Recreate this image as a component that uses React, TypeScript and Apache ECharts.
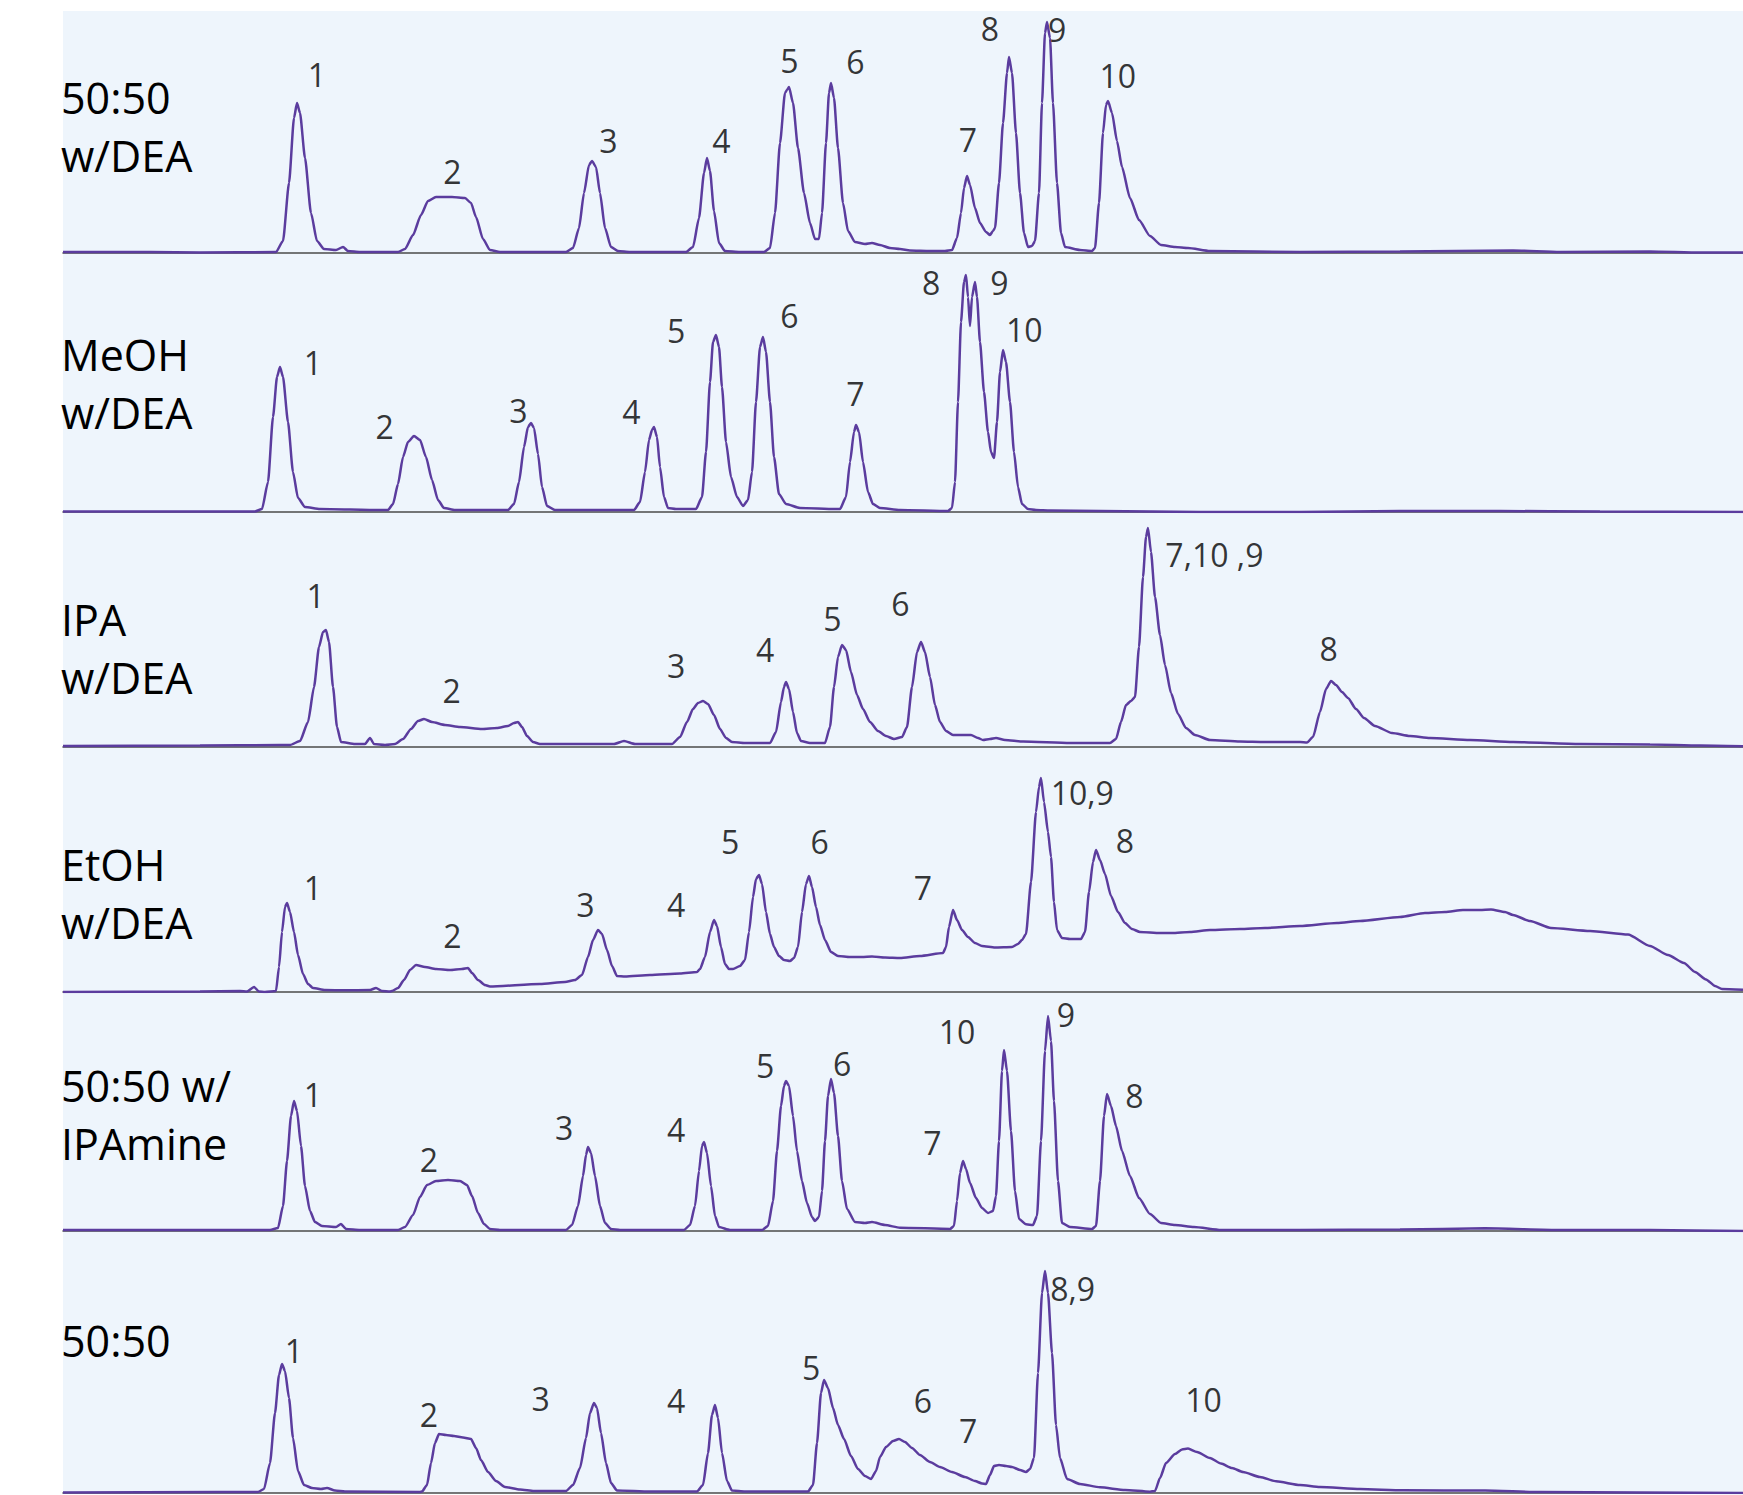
import React, { useEffect, useRef } from "react";
import * as echarts from "echarts";

// Retention axis in arbitrary units, signal height above baseline.
const X_MIN = 63;
const X_MAX = 1743;

const panelNames: string[][] = [
  ["50:50", "w/DEA"],
  ["MeOH", "w/DEA"],
  ["IPA", "w/DEA"],
  ["EtOH", "w/DEA"],
  ["50:50 w/", "IPAmine"],
  ["50:50"],
];

const trace5050DEA: number[][] = [
  [63, 1], [150, 1], [200, 0.5], [276, 1], [283, 12], [289, 70], [294, 135], [297, 150], [300, 140], [305, 95], [311, 40], [317, 12], [324, 4], [336, 3], [343, 6], [348, 2], [360, 1],
  [398, 1], [405, 4], [413, 18], [421, 38], [428, 52], [436, 56], [452, 56], [465, 55], [471, 50], [476, 36], [483, 14], [490, 3], [500, 1],
  [566, 1], [573, 5], [579, 25], [584, 60], [589, 88], [592, 92], [596, 86], [600, 60], [605, 25], [611, 6], [618, 2], [630, 1],
  [686, 1], [693, 6], [699, 35], [704, 80], [707, 95], [710, 82], [714, 42], [719, 10], [725, 2], [740, 1],
  [764, 1], [770, 5], [775, 40], [780, 110], [785, 160], [787, 163], [789, 166], [793, 150], [798, 105], [804, 60], [810, 30], [815, 14], [819, 14], [822, 40], [826, 110], [829, 160], [831, 170], [834, 155], [838, 105], [843, 50], [848, 22], [855, 11], [865, 9], [872, 10], [880, 8], [890, 5], [900, 4], [910, 2.5], [930, 2],
  [945, 2], [952, 3], [957, 15], [961, 40], [964, 65], [967, 77], [970, 68], [975, 45], [980, 30], [986, 21], [990, 18], [993, 22],
  [995, 25], [999, 70], [1003, 130], [1007, 180], [1009, 196], [1012, 180], [1016, 120], [1020, 60], [1024, 20], [1028, 6], [1032, 7],
  [1035, 12], [1039, 60], [1042, 150], [1045, 220], [1047, 231], [1050, 215], [1053, 150], [1057, 70], [1061, 20], [1065, 6], [1080, 3], [1092, 2],
  [1095, 5], [1099, 50], [1103, 120], [1106, 148], [1108, 152], [1112, 140], [1117, 112], [1122, 86], [1130, 55], [1139, 33], [1150, 17], [1161, 8], [1175, 6], [1188, 5], [1210, 2], [1300, 1], [1400, 1.5], [1513, 2.5], [1560, 1], [1650, 1.5], [1700, 0.5], [1743, 0.5],
];

const traceMeOHDEA: number[][] = [
  [63, 0.5], [150, 0.5], [255, 0.5], [262, 3], [268, 30], [273, 95], [277, 135], [280, 145], [283, 135], [288, 90], [293, 40], [298, 14], [305, 5], [320, 3], [380, 2],
  [388, 2], [393, 8], [398, 28], [403, 55], [408, 70], [414, 76], [420, 72], [426, 55], [432, 32], [438, 12], [444, 4], [455, 2],
  [508, 2], [514, 8], [519, 30], [524, 65], [528, 85], [531, 89], [534, 84], [538, 58], [542, 25], [547, 6], [555, 2],
  [634, 2], [640, 10], [645, 40], [649, 72], [652, 82], [654, 85], [657, 75], [660, 45], [664, 15], [668, 4], [676, 3],
  [696, 3], [702, 15], [706, 60], [710, 130], [713, 170], [716, 177], [719, 165], [722, 125], [726, 70], [731, 35], [737, 15], [743, 6], [748, 12], [752, 40], [756, 110], [760, 165], [763, 175], [766, 160], [770, 110], [774, 55], [779, 18], [786, 8], [800, 4], [835, 3],
  [840, 3], [846, 15], [850, 50], [854, 80], [856, 87], [859, 80], [863, 50], [868, 20], [873, 8], [880, 4], [900, 2],
  [948, 1], [952, 4], [955, 30], [958, 110], [961, 190], [964, 230], [966, 237], [968, 215], [970, 186], [972, 215], [975, 230], [977, 215], [980, 170], [984, 120], [988, 80], [991, 60], [994, 54], [997, 90], [1000, 140], [1003, 162], [1006, 150], [1010, 110], [1014, 60], [1018, 25], [1022, 8], [1028, 3], [1036, 2],
  [1050, 1.5], [1100, 1], [1150, 0.5], [1200, 0], [1300, 0], [1400, 1], [1500, 1], [1600, 0.5], [1743, 0],
];

const traceIPADEA: number[][] = [
  [63, 1], [200, 1.5], [280, 2], [290, 2], [300, 6], [308, 25], [314, 60], [319, 100], [323, 115], [326, 117], [329, 105], [333, 60], [337, 20], [341, 5], [355, 3],
  [365, 3], [370, 9], [374, 3], [385, 2],
  [395, 3], [403, 8], [411, 18], [418, 26], [424, 28], [432, 25], [445, 22], [460, 20], [482, 18], [497, 19], [508, 21], [514, 24], [518, 25], [522, 20], [527, 11], [533, 5], [540, 3], [580, 3], [614, 3], [624, 6], [635, 3],
  [672, 3], [680, 10], [687, 25], [693, 38], [698, 44], [703, 46], [708, 43], [714, 32], [720, 18], [726, 9], [732, 5], [745, 4],
  [770, 4], [776, 15], [781, 45], [784, 60], [786, 65], [789, 58], [793, 35], [797, 14], [801, 6], [810, 4], [818, 4],
  [825, 4], [830, 20], [834, 60], [838, 90], [842, 102], [846, 97], [851, 75], [857, 52], [863, 38], [870, 25], [878, 16], [886, 11], [894, 8], [902, 10], [907, 20], [912, 60], [917, 95], [921, 105], [925, 95], [930, 70], [935, 42], [940, 25], [946, 16], [953, 12], [962, 12], [971, 12], [978, 9], [983, 7], [990, 8], [996, 9], [1005, 7], [1023, 5.5], [1070, 4],
  [1110, 4], [1116, 8], [1121, 25], [1126, 42], [1131, 46], [1135, 50], [1139, 100], [1143, 170], [1146, 210], [1148, 219], [1151, 195], [1155, 150], [1160, 112], [1165, 82], [1171, 54], [1178, 33], [1186, 19], [1195, 12], [1210, 7], [1240, 5.5], [1265, 5], [1300, 5],
  [1307, 4.5], [1313, 10], [1320, 35], [1326, 58], [1331, 66], [1336, 62], [1342, 55], [1348, 49], [1356, 38], [1364, 29], [1375, 21], [1392, 14], [1410, 11], [1430, 9], [1470, 7], [1513, 5], [1580, 3], [1650, 2.5], [1700, 1.5], [1743, 0.7],
];

const traceEtOHDEA: number[][] = [
  [63, 0], [200, 0.5], [240, 1], [247, 0.5], [254, 5], [259, 0.5], [265, 0], [276, 1], [279, 25], [282, 60], [285, 85], [287, 89], [290, 80], [294, 60], [298, 37], [303, 18], [308, 8], [313, 4], [325, 2], [345, 1.7], [370, 2], [376, 4], [382, 1], [390, 0.5],
  [392, 1], [398, 4], [404, 12], [410, 22], [416, 27], [425, 25], [436, 23], [450, 22], [462, 23], [468, 24], [472, 19], [478, 12], [485, 7], [490, 5.5],
  [540, 8], [565, 10], [575, 12], [582, 17], [588, 35], [593, 52], [598, 62], [602, 58], [607, 42], [612, 26], [617, 16], [625, 15.5],
  [650, 17], [680, 18.5], [697, 20],
  [700, 23], [705, 35], [710, 60], [714, 72], [717, 66], [721, 45], [725, 28], [729, 23],
  [733, 23], [740, 26], [745, 32], [749, 60], [753, 95], [756, 113], [759, 117], [762, 108], [766, 80], [770, 58], [774, 45], [779, 36], [784, 32], [790, 31], [794, 34], [798, 45], [802, 80], [806, 108], [809, 116], [812, 105], [816, 85], [820, 67], [825, 52], [831, 40], [838, 36], [850, 35], [862, 35], [872, 35.5], [885, 34.5], [900, 34],
  [920, 36], [943, 39], [946, 45], [949, 65], [953, 82], [957, 72], [962, 62], [968, 55], [975, 49], [982, 46], [995, 44.5], [1012, 45], [1018, 48], [1022, 52], [1026, 58], [1031, 110], [1036, 180], [1039, 205], [1041, 214], [1044, 190], [1048, 160], [1051, 135], [1054, 90], [1057, 62], [1062, 54], [1070, 53], [1081, 53],
  [1085, 60], [1089, 100], [1093, 130], [1096, 142], [1100, 132], [1105, 118], [1111, 96], [1118, 80], [1125, 69], [1132, 63], [1140, 60], [1160, 59], [1172, 59], [1190, 60], [1210, 62], [1240, 63], [1265, 64], [1300, 66], [1337, 69], [1360, 71], [1400, 75], [1425, 79], [1445, 80], [1463, 82], [1480, 82], [1491, 82.5], [1505, 80], [1513, 77], [1530, 71], [1551, 64], [1590, 61], [1628, 57.5], [1650, 46], [1668, 37], [1684, 29], [1695, 20], [1706, 12.6], [1715, 6], [1722, 3], [1743, 2.3],
];

const trace5050IPAmine: number[][] = [
  [63, 1], [200, 1], [270, 1], [278, 3], [283, 25], [287, 70], [291, 115], [294, 130], [297, 120], [301, 85], [305, 45], [310, 20], [315, 9], [322, 5], [336, 4], [341, 7], [346, 2], [360, 1],
  [398, 1], [405, 4], [413, 16], [420, 34], [427, 46], [436, 50], [448, 51], [460, 50], [467, 46], [472, 35], [478, 18], [484, 7], [490, 2], [500, 1],
  [566, 1], [572, 6], [578, 25], [583, 55], [586, 76], [588, 84], [591, 78], [595, 55], [600, 25], [605, 8], [611, 2], [620, 1],
  [684, 1], [690, 6], [695, 25], [699, 60], [702, 85], [704, 89], [707, 78], [711, 45], [715, 15], [719, 4], [730, 1],
  [762, 1], [768, 5], [773, 30], [777, 80], [781, 125], [784, 145], [786, 150], [789, 145], [793, 115], [797, 80], [802, 50], [807, 28], [812, 14], [815, 10], [819, 14], [822, 40], [825, 90], [828, 135], [831, 152], [834, 138], [838, 95], [842, 50], [847, 22], [855, 9], [865, 8], [872, 9], [885, 6], [900, 3.3],
  [950, 2], [954, 5], [957, 30], [960, 58], [963, 70], [966, 62], [970, 48], [976, 33], [982, 23], [988, 18], [993, 20], [996, 35], [999, 90], [1002, 160], [1004, 181], [1007, 160], [1011, 100], [1015, 40], [1019, 12], [1026, 6.7], [1033, 6], [1037, 15], [1041, 90], [1045, 180], [1048, 215], [1051, 190], [1054, 130], [1058, 50], [1062, 8], [1070, 4], [1092, 2],
  [1096, 5], [1100, 50], [1104, 115], [1107, 137], [1111, 125], [1116, 105], [1122, 80], [1130, 55], [1139, 33], [1150, 17], [1161, 8], [1175, 6], [1194, 4], [1221, 1], [1300, 1], [1400, 1.5], [1485, 2.7], [1560, 1], [1650, 1], [1743, 0],
];

const trace5050: number[][] = [
  [63, 0.5], [218, 1], [258, 1], [264, 4], [270, 30], [275, 80], [279, 118], [282, 129], [285, 122], [289, 95], [293, 55], [298, 22], [304, 8], [312, 5], [321, 4], [327, 5], [335, 2.5], [345, 1.5], [420, 1],
  [422, 1.5], [427, 8], [431, 30], [435, 50], [439, 59], [446, 58], [454, 57], [463, 55.5], [471, 54], [476, 45], [481, 33], [488, 21], [496, 12], [505, 6], [520, 3.5], [534, 2],
  [566, 2], [573, 8], [580, 25], [586, 55], [590, 80], [594, 90], [597, 85], [601, 60], [606, 30], [611, 10], [617, 2.5], [650, 1.5],
  [697, 1.5], [703, 8], [708, 40], [712, 78], [715, 88], [718, 75], [722, 40], [727, 12], [732, 2.5], [745, 1.5], [800, 1.5],
  [808, 1.5], [813, 8], [817, 50], [821, 100], [824, 113], [828, 105], [833, 85], [838, 68], [844, 54], [851, 37], [858, 24], [865, 17], [871, 14], [876, 22], [880, 36], [886, 46], [893, 52], [899, 54], [905, 51], [912, 45], [920, 38], [930, 31], [940, 26], [952, 21], [965, 16], [975, 12], [982, 9.5], [986, 9],
  [990, 18], [994, 27], [999, 28], [1006, 27], [1012, 26], [1020, 23], [1026, 21], [1030, 24], [1034, 35], [1038, 120], [1042, 200], [1045, 222], [1048, 200], [1052, 140], [1056, 68], [1060, 35], [1067, 14], [1080, 9], [1100, 5.7], [1125, 3], [1150, 1.3],
  [1155, 2], [1160, 15], [1166, 30], [1175, 39], [1182, 43.5], [1188, 44.4], [1197, 41], [1210, 35], [1221, 29.4], [1232, 25], [1243, 21], [1260, 16], [1276, 11.7], [1300, 8], [1320, 6], [1360, 4], [1403, 2.7], [1485, 2.5], [1540, 1], [1743, 0],
];

// Peak annotations: [retention, height, text]
const labels5050DEA: [number, number, string][] = [
  [316.8, 176.6, "1"], [452.3, 80, "2"], [608.4, 110.7, "3"], [721.5, 110.7, "4"], [789.3, 190.3, "5"], [855.3, 189.7, "6"],
  [968, 111.3, "7"], [990, 222.2, "8"], [1057.2, 221.3, "9"], [1117.8, 175.5, "10"],
];
const labelsMeOHDEA: [number, number, string][] = [
  [312.8, 148, "1"], [384.6, 84, "2"], [518.3, 99.7, "3"], [631.4, 98.3, "4"], [676.2, 179.7, "5"], [789.3, 195, "6"],
  [855.3, 116.7, "7"], [931.2, 227.7, "8"], [999.4, 227.7, "9"], [1024.2, 180.3, "10"],
];
const labelsIPADEA: [number, number, string][] = [
  [315.7, 150, "1"], [451.7, 54.3, "2"], [676.2, 80, "3"], [765.1, 95.3, "4"], [832.3, 126.6, "5"], [900.4, 141.6, "6"],
  [1214.4, 191, "7,10 ,9"], [1328.6, 96.6, "8"],
];
const labelsEtOHDEA: [number, number, string][] = [
  [312.8, 103, "1"], [452.3, 54.3, "2"], [585.5, 85.3, "3"], [676.2, 85.3, "4"], [730.1, 149, "5"], [819.7, 149, "6"],
  [922.9, 102.3, "7"], [1082.3, 197.3, "10,9"], [1124.9, 149.6, "8"],
];
const labels5050IPAmine: [number, number, string][] = [
  [312.8, 134.4, "1"], [428.8, 69.4, "2"], [564.2, 101.4, "3"], [676.2, 100, "4"], [765.1, 164, "5"], [842.1, 166, "6"],
  [932.3, 86.4, "7"], [957.1, 198, "10"], [1066, 214.4, "9"], [1134.3, 134, "8"],
];
const labels5050: [number, number, string][] = [
  [293.9, 140.4, "1"], [428.8, 76.4, "2"], [540.7, 92.4, "3"], [676.2, 91, "4"], [811.1, 123.7, "5"], [922.9, 91, "6"],
  [968.1, 60.4, "7"], [1072.7, 202.7, "8,9"], [1203.6, 91.7, "10"],
];

const traces = [trace5050DEA, traceMeOHDEA, traceIPADEA, traceEtOHDEA, trace5050IPAmine, trace5050];
const peakLabels = [labels5050DEA, labelsMeOHDEA, labelsIPADEA, labelsEtOHDEA, labels5050IPAmine, labels5050];

// Layout (pixels)
const PANELS = [
  { top: 11, height: 242, nameY: 99.3 },
  { top: 253, height: 259, nameY: 355.7 },
  { top: 512, height: 235, nameY: 620.7 },
  { top: 747, height: 245, nameY: 865.7 },
  { top: 992, height: 239, nameY: 1087.3 },
  { top: 1231, height: 262, nameY: 1342.3 },
];
const LINE_GAP = 58;
const FONT = '"Open Sans", "Liberation Sans", sans-serif';
const BG = "#eef5fc";
const TRACE = "#5b3c9e";

export default function App() {
  const ref = useRef<HTMLDivElement>(null);
  useEffect(() => {
    if (!ref.current) return;
    const chart = echarts.init(ref.current, null, { renderer: "svg" });
    const grid = PANELS.map((p) => ({
      left: 63,
      right: 0,
      top: p.top,
      height: p.height,
      show: true,
      backgroundColor: BG,
      borderWidth: 0,
      containLabel: false,
    }));
    const xAxis = PANELS.map((_, i) => ({
      type: "value",
      gridIndex: i,
      min: X_MIN,
      max: X_MAX,
      axisLine: { show: true, onZero: false, lineStyle: { color: "#4a4a4a", width: 1.5 } },
      axisTick: { show: false },
      axisLabel: { show: false },
      splitLine: { show: false },
    }));
    const yAxis = PANELS.map((p, i) => ({
      type: "value",
      gridIndex: i,
      min: 0,
      max: p.height,
      show: false,
      splitLine: { show: false },
    }));
    const series: any[] = [];
    traces.forEach((t, i) => {
      series.push({
        type: "line",
        xAxisIndex: i,
        yAxisIndex: i,
        data: t,
        showSymbol: false,
        smooth: 0.2,
        smoothMonotone: "x",
        lineStyle: { color: TRACE, width: 2.5 },
        silent: true,
        z: 3,
      });
      series.push({
        type: "scatter",
        xAxisIndex: i,
        yAxisIndex: i,
        symbolSize: 1,
        itemStyle: { color: "rgba(0,0,0,0)" },
        data: peakLabels[i].map((l) => ({ value: [l[0], l[1]], name: l[2] })),
        label: {
          show: true,
          position: "inside",
          offset: [0, -2],
          formatter: "{b}",
          fontSize: 32,
          fontFamily: FONT,
          color: "#000",
        },
        silent: true,
        z: 5,
      });
    });
    const graphic: any[] = [];
    PANELS.forEach((p, i) => {
      panelNames[i].forEach((txt, j) => {
        graphic.push({
          type: "text",
          left: 61,
          top: p.nameY + j * LINE_GAP - 23,
          style: {
            text: txt,
            fontSize: 43,
            fontFamily: FONT,
            fill: "#000",
          },
          z: 10,
        });
      });
    });
    chart.setOption({
      animation: false,
      backgroundColor: "#ffffff",
      grid,
      xAxis,
      yAxis,
      series,
      graphic,
    });
    return () => chart.dispose();
  }, []);
  return (
    <div
      ref={ref}
      style={{ position: "absolute", left: 0, top: 0, width: 1743, height: 1495 }}
    />
  );
}
